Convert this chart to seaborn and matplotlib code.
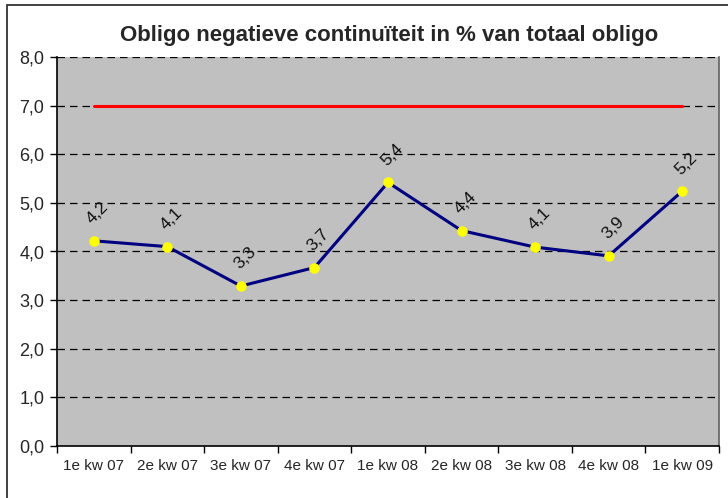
import numpy as np
import pandas as pd
import matplotlib
matplotlib.use('Agg')
import matplotlib.pyplot as plt
import seaborn as sns
from matplotlib.patches import Rectangle

# Data
quarters = ['1e kw 07', '2e kw 07', '3e kw 07', '4e kw 07', '1e kw 08',
            '2e kw 08', '3e kw 08', '4e kw 08', '1e kw 09']
obligo_pct = [4.22, 4.10, 3.29, 3.67, 5.42, 4.43, 4.09, 3.91, 5.24]
norm_pct = [7.0, 7.0, 7.0, 7.0, 7.0, 7.0, 7.0, 7.0, 7.0]
y_ticks = [0, 1, 2, 3, 4, 5, 6, 7, 8]

df = pd.DataFrame({'pos': np.arange(len(quarters)), 'kwartaal': quarters,
                   'obligo': obligo_pct, 'norm': norm_pct})

sns.set_style('white')
plt.rcParams['font.family'] = ['Liberation Sans', 'DejaVu Sans']

fig = plt.figure(figsize=(7.28, 4.98), dpi=100)
ax = fig.add_axes([57 / 728, 1 - 446 / 498, (719 - 57) / 728, (446 - 57) / 498])
ax.set_facecolor('#c0c0c0')

# outer chart border (cut off at right/bottom like the original)
fig.patches.append(Rectangle((7 / 728, -0.05), 1.2, 1 - 5 / 498 + 0.05,
                             transform=fig.transFigure, fill=False,
                             edgecolor='#333333', linewidth=1.3, zorder=0))

sns.lineplot(data=df, x='pos', y='norm', ax=ax, color='#ff0000', linewidth=2.2)
sns.lineplot(data=df, x='pos', y='obligo', ax=ax, color='#000080', linewidth=2.2,
             marker='o', markersize=6.8, markerfacecolor='#ffff00',
             markeredgecolor='#ffff00', zorder=4)

for x, v in zip(df['pos'], df['obligo']):
    ax.annotate(f'{v:.1f}'.replace('.', ','), (x, v), xytext=(3, 20),
                textcoords='offset points', ha='center', va='center',
                rotation=45, fontsize=12.5, color='#111111')

ax.set_xlim(-0.5, len(quarters) - 0.5)
ax.set_ylim(0, 8)
ax.set_yticks(y_ticks)
ax.set_yticklabels([f'{t:.1f}'.replace('.', ',') for t in y_ticks], fontsize=13)
ax.set_xticks(np.arange(len(quarters) + 1) - 0.5)
ax.set_xticklabels([])
ax.set_xticks(df['pos'], minor=True)
ax.set_xticklabels(quarters, minor=True, fontsize=11)
ax.tick_params(axis='x', which='minor', length=0, pad=9)
ax.tick_params(axis='both', which='major', length=5, width=1, color='black',
               direction='out', bottom=True, left=True)
ax.tick_params(axis='y', pad=4)
ax.set_xlabel('')
ax.set_ylabel('')

for y in y_ticks[1:]:
    ax.axhline(y, color='black', linewidth=0.9, linestyle=(0, (6, 4)), zorder=1)

ax.spines['left'].set_color('black')
ax.spines['bottom'].set_color('black')
ax.spines['top'].set_visible(False)
ax.spines['right'].set_color('#606060')
for s in ['left', 'bottom', 'right']:
    ax.spines[s].set_linewidth(1.2)

fig.text(389 / 728, 1 - 36 / 498, 'Obligo negatieve continuïteit in % van totaal obligo',
         ha='center', va='center', fontsize=16, fontweight='bold')

fig.savefig('out.png', dpi=100)
